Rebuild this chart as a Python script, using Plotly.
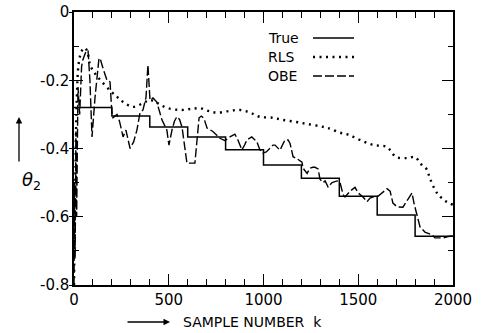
import plotly.graph_objects as go

# ---------------- data ----------------
true_k = [0, 200, 200, 400, 400, 600, 600, 800, 800, 1000, 1000, 1200, 1200, 1400, 1400, 1600, 1600, 1800, 1800, 2000]
true_v = [-0.28, -0.28, -0.305, -0.305, -0.337, -0.337, -0.366, -0.366, -0.404, -0.404,
          -0.448, -0.448, -0.487, -0.487, -0.54, -0.54, -0.595, -0.595, -0.657, -0.657]

rls_k = [0, 8, 15, 25, 40, 55, 70, 85, 110, 140, 190, 230, 260, 310, 365, 400, 440, 490, 560, 620,
         665, 710, 755, 820, 876, 930, 980, 1050, 1100, 1170, 1230, 1300, 1340, 1400, 1450, 1510,
         1580, 1650, 1700, 1760, 1800, 1830, 1860, 1880, 1915, 1950, 1970, 2000]
rls_v = [-0.8, -0.45, -0.25, -0.15, -0.115, -0.105, -0.115, -0.155, -0.18, -0.2, -0.23, -0.25,
         -0.264, -0.278, -0.267, -0.258, -0.267, -0.281, -0.287, -0.284, -0.282, -0.29, -0.295,
         -0.29, -0.287, -0.295, -0.307, -0.31, -0.316, -0.322, -0.328, -0.335, -0.34, -0.353,
         -0.36, -0.375, -0.39, -0.395, -0.425, -0.428, -0.425, -0.445, -0.46, -0.49, -0.53,
         -0.55, -0.557, -0.565]

obe_k = [0, 3, 6, 10, 14, 18, 21, 30, 40, 47, 60, 74, 84, 95, 111, 132, 140, 153, 174, 190, 200,
         206, 227, 240, 259, 274, 296, 315, 332, 348, 364, 380, 390, 401, 417, 437, 450, 464, 490,
         501, 517, 530, 543, 557, 570, 583, 596, 638, 649, 660, 672, 686, 702, 733, 770, 797, 823,
         849, 865, 886, 900, 912, 938, 965, 981, 997, 1015, 1034, 1050, 1061, 1087, 1113, 1130,
         1140, 1156, 1177, 1203, 1209, 1230, 1245, 1260, 1272, 1288, 1298, 1314, 1325, 1341, 1362,
         1388, 1404, 1420, 1430, 1457, 1483, 1499, 1525, 1546, 1562, 1588, 1604, 1625, 1652, 1668,
         1683, 1705, 1736, 1763, 1784, 1794, 1810, 1826, 1852, 1889, 1905, 1947, 1974, 2000]
obe_v = [-0.8, -0.5, -0.72, -0.35, -0.6, -0.3, -0.22, -0.3, -0.16, -0.14, -0.12, -0.112, -0.2,
         -0.366, -0.25, -0.135, -0.14, -0.165, -0.2, -0.205, -0.296, -0.31, -0.3, -0.32, -0.366,
         -0.346, -0.4, -0.38, -0.346, -0.296, -0.287, -0.25, -0.155, -0.258, -0.252, -0.264, -0.29,
         -0.316, -0.346, -0.39, -0.346, -0.32, -0.307, -0.315, -0.337, -0.384, -0.443, -0.443,
         -0.375, -0.31, -0.305, -0.312, -0.34, -0.35, -0.37, -0.377, -0.366, -0.358, -0.375,
         -0.404, -0.39, -0.375, -0.366, -0.38, -0.404, -0.413, -0.41, -0.4, -0.39, -0.39, -0.405,
         -0.375, -0.375, -0.385, -0.424, -0.43, -0.44, -0.458, -0.473, -0.458, -0.455, -0.455,
         -0.46, -0.49, -0.5, -0.495, -0.513, -0.5, -0.495, -0.5, -0.535, -0.542, -0.525, -0.514,
         -0.53, -0.542, -0.556, -0.545, -0.54, -0.54, -0.53, -0.518, -0.525, -0.56, -0.571,
         -0.572, -0.548, -0.53, -0.56, -0.6, -0.63, -0.645, -0.653, -0.662, -0.662, -0.658, -0.656]

x_ticks = [0, 500, 1000, 1500, 2000]
y_ticks = [-0.8, -0.6, -0.4, -0.2, 0]
y_tick_text = ["-0.8", "-0.6", "-0.4", "-0.2", "0"]
legend_names = ["True", "RLS", "OBE"]

# ---------------- figure ----------------
FONT = "DejaVu Sans, Liberation Sans, Arial, sans-serif"
W, H = 482, 333
ML, MR, MT, MB = 74, 29, 12, 48
PW, PH = W - ML - MR, H - MT - MB

def px2paper(px, py):
    return (px - ML) / PW, (H - MB - py) / PH

fig = go.Figure()
fig.add_trace(go.Scatter(x=true_k, y=true_v, mode="lines", name="True",
                         line=dict(color="black", width=1.5)))
fig.add_trace(go.Scatter(x=rls_k, y=rls_v, mode="lines", name="RLS", line_shape="spline",
                         line=dict(color="black", width=2.4, dash="2px,4.5px")))
fig.add_trace(go.Scatter(x=obe_k, y=obe_v, mode="lines", name="OBE",
                         line=dict(color="black", width=1.4, dash="9px,3px")))
# empty trace so that the mirrored frame axes (top / right / left stubs) are drawn
fig.add_trace(go.Scatter(x=[], y=[], xaxis="x2", yaxis="y2", hoverinfo="skip"))
fig.add_trace(go.Scatter(x=[], y=[], xaxis="x2", yaxis="y3", hoverinfo="skip"))

tickfont = dict(family=FONT, size=15, color="black")
base = dict(showgrid=False, zeroline=False, showline=True, linecolor="black", linewidth=1.5,
            tickcolor="black", tickwidth=1.3, automargin=False, tickfont=tickfont)

fig.update_layout(
    width=W, height=H,
    margin=dict(l=ML, r=MR, t=MT, b=MB, pad=0),
    paper_bgcolor="white", plot_bgcolor="white",
    showlegend=False, hovermode=False,
    font=dict(family=FONT, color="black"),
    xaxis=dict(range=[0, 2000], tickvals=x_ticks, ticktext=[str(v) for v in x_ticks],
               ticks="inside", ticklen=11,
               minor=dict(dtick=100, ticks="inside", ticklen=6, tickcolor="black", tickwidth=1.2),
               **base),
    yaxis=dict(range=[-0.8, 0], tickvals=y_ticks, ticktext=y_tick_text,
               ticks="inside", ticklen=9,
               minor=dict(dtick=0.1, ticks="inside", ticklen=5, tickcolor="black", tickwidth=1.2),
               **base),
    xaxis2=dict(overlaying="x", matches="x", side="top", tickvals=x_ticks,
                showticklabels=False, ticks="inside", ticklen=11,
                minor=dict(dtick=100, ticks="inside", ticklen=6, tickcolor="black", tickwidth=1.2),
                **base),
    yaxis2=dict(overlaying="y", matches="y", side="right", tickvals=y_ticks,
                showticklabels=False, ticks="inside", ticklen=11,
                minor=dict(dtick=0.1, ticks="inside", ticklen=5, tickcolor="black", tickwidth=1.2),
                **base),
    yaxis3=dict(overlaying="y", matches="y", side="left", tickvals=y_ticks,
                showticklabels=False, ticks="outside", ticklen=4,
                **{**base, "showline": False}),
)

# legend drawn as text followed by line samples (text left, sample right)
leg_rows = [(38, dict(color="black", width=1.5)),
            (57, dict(color="black", width=2.4, dash="2px,4.5px")),
            (76, dict(color="black", width=1.4, dash="9px,3px"))]
for name, (py, ln) in zip(legend_names, leg_rows):
    tx, ty = px2paper(266, py)
    fig.add_annotation(x=tx, y=ty, xref="paper", yref="paper", text=name, showarrow=False,
                       xanchor="left", yanchor="middle",
                       font=dict(family=FONT, size=14, color="black"))
    x0, y0 = px2paper(313, py)
    x1, _ = px2paper(354, py)
    fig.add_shape(type="line", xref="paper", yref="paper", x0=x0, x1=x1, y0=y0, y1=y0, line=ln)

# y-axis label with upward arrow
lx, ly = px2paper(20, 181)
fig.add_annotation(x=lx, y=ly, xref="paper", yref="paper", text="<i>θ</i><sub>2</sub>",
                   showarrow=False, font=dict(family=FONT, size=18, color="black"))
ax_h, ay_h = px2paper(19, 117)
fig.add_annotation(x=ax_h, y=ay_h, xref="paper", yref="paper", text="", showarrow=True,
                   ax=0, ay=46, arrowhead=2, arrowsize=1, arrowwidth=1.3, arrowcolor="black")

# x-axis label with right arrow
xlx, xly = px2paper(181, 322)
fig.add_annotation(x=xlx, y=xly, xref="paper", yref="paper", text="SAMPLE NUMBER&nbsp;&nbsp;k",
                   showarrow=False, xanchor="left", yanchor="middle",
                   font=dict(family=FONT, size=14, color="black"))
hx, hy = px2paper(170, 322)
fig.add_annotation(x=hx, y=hy, xref="paper", yref="paper", text="", showarrow=True,
                   ax=-44, ay=0, arrowhead=2, arrowsize=1, arrowwidth=1.3, arrowcolor="black")

fig.write_html("out.html", config={"displayModeBar": False},
               post_script="document.body.style.margin='0px';")
